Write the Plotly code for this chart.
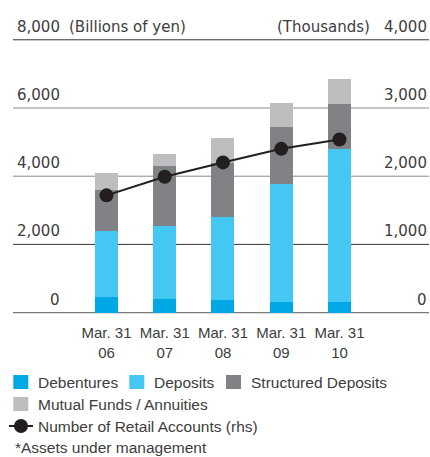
import plotly.graph_objects as go

# ---- data ----
dates = ["Mar. 31<br>06", "Mar. 31<br>07", "Mar. 31<br>08", "Mar. 31<br>09", "Mar. 31<br>10"]
debentures = [460, 400, 370, 313, 313]
deposits = [1930, 2140, 2430, 3457, 4482]
structured = [1200, 1755, 1583, 1670, 1317]
mutual = [497, 352, 732, 710, 731]
accounts = [1719, 1991, 2202, 2401, 2539]

series_names = ["Debentures", "Deposits", "Structured Deposits",
                "Mutual Funds / Annuities", "Number of Retail Accounts (rhs)"]
series_colors = ["#00a8e6", "#45c7f4", "#808285", "#bcbec0", "#231f20"]

left_ticks = [0, 2000, 4000, 6000, 8000]
left_labels = ["0", "2,000", "4,000", "6,000", "8,000"]
right_labels = ["0", "1,000", "2,000", "3,000", "4,000"]
grid_colors = ["#7a7a7a", "#333333", "#8a8a8a", "#8a8a8a", "#333333"]
left_title = "(Billions of yen)"
right_title = "(Thousands)"
footnote = "*Assets under management"

# ---- geometry helpers (figure pixels -> paper) ----
W, H = 430, 457
ML, MR, MT, MB = 13, 1, 30, 135
PW, PH = W - ML - MR, H - MT - MB


def px(x):
    return (x - ML) / PW


def py(y):
    return (H - MB - y) / PH


NUM_FONT = "DejaVu Sans, Liberation Sans, sans-serif"
NARROW_FONT = "Liberation Sans, Arial, sans-serif"
TXT = "#3d3d3d"

fig = go.Figure()
bar_series = [debentures, deposits, structured, mutual]
for name, vals, col in zip(series_names[:4], bar_series, series_colors[:4]):
    fig.add_trace(go.Bar(x=dates, y=vals, name=name, marker=dict(color=col, line=dict(width=0)),
                         width=0.395, showlegend=False, yaxis="y"))

fig.add_trace(go.Scatter(x=dates, y=accounts, name=series_names[4], mode="lines+markers",
                         line=dict(color=series_colors[4], width=2),
                         marker=dict(color=series_colors[4], size=14),
                         showlegend=False, yaxis="y2"))

shapes = []
annotations = []
for v, c in zip(left_ticks, grid_colors):
    shapes.append(dict(type="line", xref="paper", yref="y", x0=0, x1=1, y0=v, y1=v,
                       line=dict(color=c, width=1.3 if v == 0 else 1), layer="below"))

for v, lab, rlab in zip(left_ticks, left_labels, right_labels):
    annotations.append(dict(x=px(62), y=v, xref="paper", yref="y", text=lab, showarrow=False,
                            xanchor="right", yanchor="bottom", yshift=2,
                            font=dict(family=NUM_FONT, size=15, color=TXT)))
    annotations.append(dict(x=px(429), y=v, xref="paper", yref="y", text=rlab, showarrow=False,
                            xanchor="right", yanchor="bottom", yshift=2,
                            font=dict(family=NUM_FONT, size=15, color=TXT)))
annotations.append(dict(x=px(67), y=left_ticks[-1], xref="paper", yref="y", text=left_title,
                        showarrow=False, xanchor="left", yanchor="bottom", yshift=2,
                        font=dict(family=NUM_FONT, size=15, color=TXT)))
annotations.append(dict(x=px(372), y=left_ticks[-1], xref="paper", yref="y", text=right_title,
                        showarrow=False, xanchor="right", yanchor="bottom", yshift=2,
                        font=dict(family=NUM_FONT, size=15, color=TXT)))

# ---- manual legend ----
LEG_SIZE = 15.5
legend_items = [  # (square x0, text x, row center y)
    (13.3, 36, 382),
    (129.3, 152, 382),
    (226, 248.5, 382),
    (13.3, 36, 404),
]
for (sx, tx, cy), name, col in zip(legend_items, series_names[:4], series_colors[:4]):
    shapes.append(dict(type="rect", xref="paper", yref="paper", x0=px(sx), x1=px(sx + 15),
                       y0=py(cy - 7), y1=py(cy + 7), fillcolor=col, line=dict(width=0)))
    annotations.append(dict(x=px(tx), y=py(cy), xref="paper", yref="paper", text=name,
                            showarrow=False, xanchor="left", yanchor="middle",
                            font=dict(family=NARROW_FONT, size=LEG_SIZE, color=TXT)))
cy = 426
shapes.append(dict(type="line", xref="paper", yref="paper", x0=px(9), x1=px(33), y0=py(cy), y1=py(cy),
                   line=dict(color=series_colors[4], width=2)))
shapes.append(dict(type="circle", xref="paper", yref="paper", x0=px(14), x1=px(28), y0=py(cy - 7),
                   y1=py(cy + 7), fillcolor=series_colors[4], line=dict(width=0)))
annotations.append(dict(x=px(36), y=py(cy), xref="paper", yref="paper", text=series_names[4],
                        showarrow=False, xanchor="left", yanchor="middle",
                        font=dict(family=NARROW_FONT, size=LEG_SIZE, color=TXT)))
annotations.append(dict(x=px(13), y=py(447), xref="paper", yref="paper", text=footnote,
                        showarrow=False, xanchor="left", yanchor="middle",
                        font=dict(family=NARROW_FONT, size=LEG_SIZE, color=TXT)))

fig.update_layout(
    width=W, height=H, margin=dict(l=ML, r=MR, t=MT, b=MB),
    paper_bgcolor="white", plot_bgcolor="white",
    barmode="stack", bargap=0, showlegend=False,
    xaxis=dict(range=[-1.605, 5.537], showgrid=False, zeroline=False, showline=False, ticks="",
               tickangle=0, tickfont=dict(family=NARROW_FONT, size=15, color=TXT),
               ticklabelstandoff=0),
    yaxis=dict(range=[-276, 8287], showgrid=False, zeroline=False, showticklabels=False, ticks=""),
    yaxis2=dict(range=[-138, 4143.5], overlaying="y", side="right", showgrid=False, zeroline=False,
                showticklabels=False, ticks=""),
    shapes=shapes, annotations=annotations,
)

fig.write_html("out.html")
